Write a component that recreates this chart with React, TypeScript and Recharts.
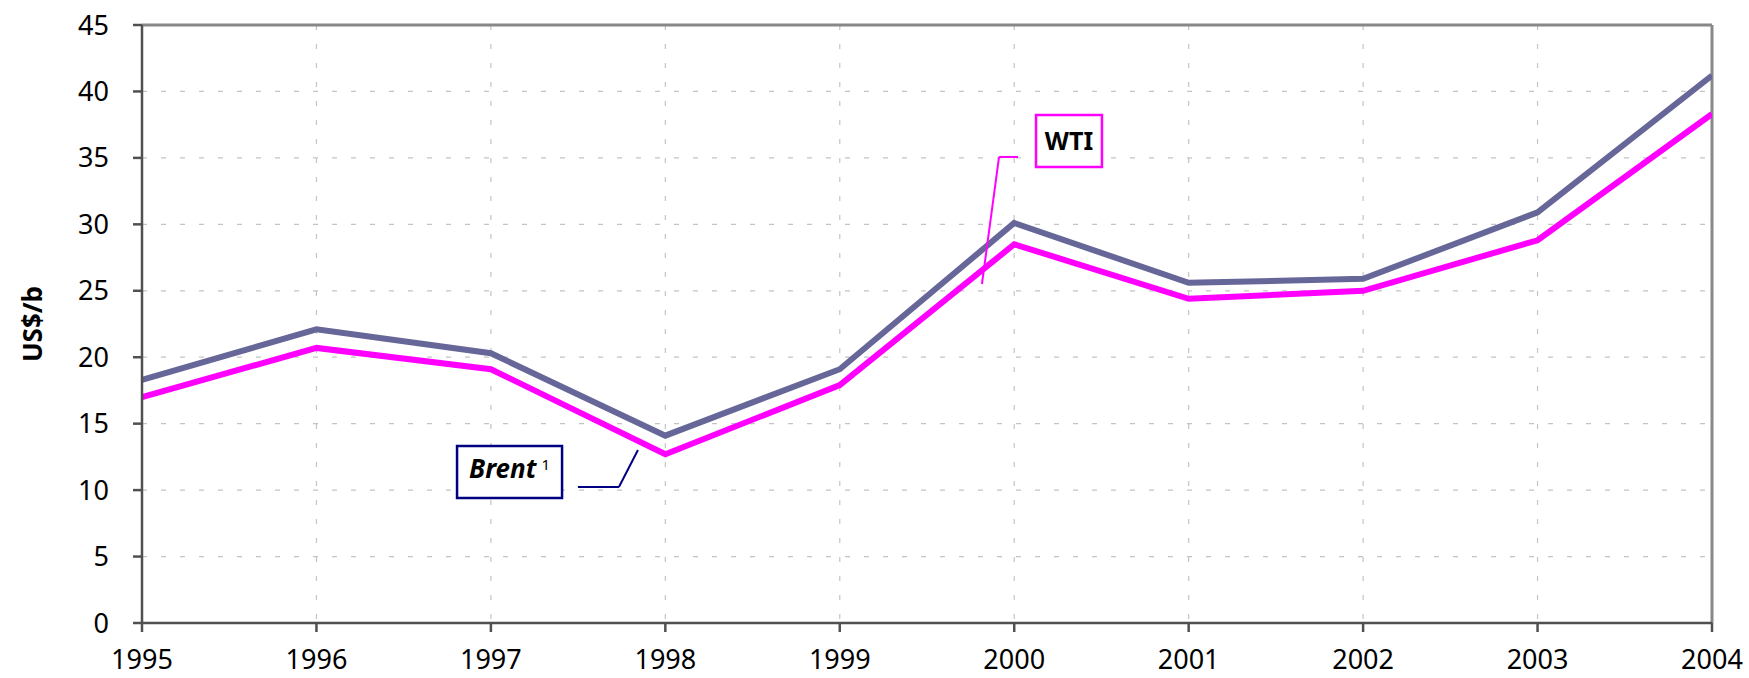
import React from "react";
import {
  LineChart,
  Line,
  XAxis,
  YAxis,
  CartesianGrid,
  ReferenceLine,
  ReferenceArea,
} from "recharts";

const years = [1995, 1996, 1997, 1998, 1999, 2000, 2001, 2002, 2003, 2004];
const wti = [18.3, 22.1, 20.3, 14.1, 19.1, 30.1, 25.6, 25.9, 30.9, 41.2];
const brent = [17.0, 20.7, 19.1, 12.7, 17.9, 28.5, 24.4, 25.0, 28.8, 38.3];
const yTicks = [0, 5, 10, 15, 20, 25, 30, 35, 40, 45];

const data = years.map((y, i) => ({ year: y, wti: wti[i], brent: brent[i] }));

const FONT = "'Noto Sans', 'DejaVu Sans', sans-serif";

const BrentLabel = (props: any) => {
  const vb = props.viewBox || {};
  const cx = vb.x + vb.width / 2;
  const cy = vb.y + vb.height / 2;
  return (
    <text
      x={cx}
      y={cy}
      dy="0.35em"
      textAnchor="middle"
      fontFamily={FONT}
      fill="#000"
    >
      <tspan fontSize={26} fontWeight="bold" fontStyle="italic">
        Brent
      </tspan>
      <tspan fontSize={15} dx={5} dy={-8}>
        1
      </tspan>
    </text>
  );
};

const YLabel = (props: any) => {
  const vb = props.viewBox || {};
  const x = 33;
  const y = vb.y + vb.height / 2;
  return (
    <text
      x={x}
      y={y}
      transform={`rotate(-90, ${x}, ${y})`}
      textAnchor="middle"
      dy="0.35em"
      fontFamily={FONT}
      fontSize={26}
      fontWeight="bold"
      fill="#000"
    >
      US$/b
    </text>
  );
};

export default function App() {
  return (
    <div style={{ position: "absolute", left: 0, top: 0, background: "#fff" }}>
      <LineChart
        width={1749}
        height={678}
        data={data}
        margin={{ top: 25, right: 37, bottom: 0, left: 0 }}
      >
        <CartesianGrid stroke="#c4c4c4" strokeDasharray="5 14" strokeWidth={1.2} />
        <XAxis
          dataKey="year"
          type="number"
          domain={[1995, 2004]}
          ticks={years}
          allowDataOverflow
          height={55}
          tickSize={9}
          tickMargin={18}
          stroke="#505050"
          strokeWidth={2.5}
          tick={{ fill: "#000", fontSize: 27, fontFamily: FONT }}
          interval={0}
        />
        <YAxis
          domain={[0, 45]}
          ticks={yTicks}
          width={142}
          tickSize={9}
          tickMargin={24}
          stroke="#505050"
          strokeWidth={2.5}
          allowDataOverflow
          interval={0}
          tick={{ fill: "#000", fontSize: 27, fontFamily: FONT }}
          label={{ content: <YLabel /> } as any}
        />
        <ReferenceLine y={45} stroke="#888" strokeWidth={3} ifOverflow="visible" />
        <ReferenceLine x={2004} stroke="#888" strokeWidth={3} ifOverflow="visible" />
        <Line
          dataKey="wti"
          stroke="#666699"
          strokeWidth={6}
          dot={false}
          isAnimationActive={false}
          strokeLinejoin="miter"
        />
        <Line
          dataKey="brent"
          stroke="#FF00FF"
          strokeWidth={6}
          dot={false}
          isAnimationActive={false}
          strokeLinejoin="miter"
        />
        {/* WTI annotation */}
        <ReferenceLine
          segment={[
            { x: 2000.022, y: 35.07 },
            { x: 1999.913, y: 35.07 },
          ]}
          stroke="#FF00FF"
          strokeWidth={2}
          ifOverflow="visible"
        />
        <ReferenceLine
          segment={[
            { x: 1999.913, y: 35.07 },
            { x: 1999.815, y: 25.51 },
          ]}
          stroke="#FF00FF"
          strokeWidth={2}
          ifOverflow="visible"
        />
        <ReferenceArea
          x1={2000.125}
          x2={2000.503}
          y1={34.31}
          y2={38.23}
          fill="#fff"
          fillOpacity={1}
          stroke="#FF00FF"
          strokeWidth={2.5}
          ifOverflow="visible"
          label={{
            value: "WTI",
            position: "center",
            fill: "#000",
            fontSize: 25,
            fontWeight: "bold",
            fontFamily: FONT,
          }}
        />
        {/* Brent annotation */}
        <ReferenceLine
          segment={[
            { x: 1997.499, y: 10.23 },
            { x: 1997.734, y: 10.23 },
          ]}
          stroke="#000080"
          strokeWidth={2}
          ifOverflow="visible"
        />
        <ReferenceLine
          segment={[
            { x: 1997.734, y: 10.23 },
            { x: 1997.843, y: 13.02 },
          ]}
          stroke="#000080"
          strokeWidth={2}
          ifOverflow="visible"
        />
        <ReferenceArea
          x1={1996.806}
          x2={1997.408}
          y1={9.41}
          y2={13.32}
          fill="#fff"
          fillOpacity={1}
          stroke="#000080"
          strokeWidth={2.5}
          ifOverflow="visible"
          label={<BrentLabel />}
        />
      </LineChart>
    </div>
  );
}
